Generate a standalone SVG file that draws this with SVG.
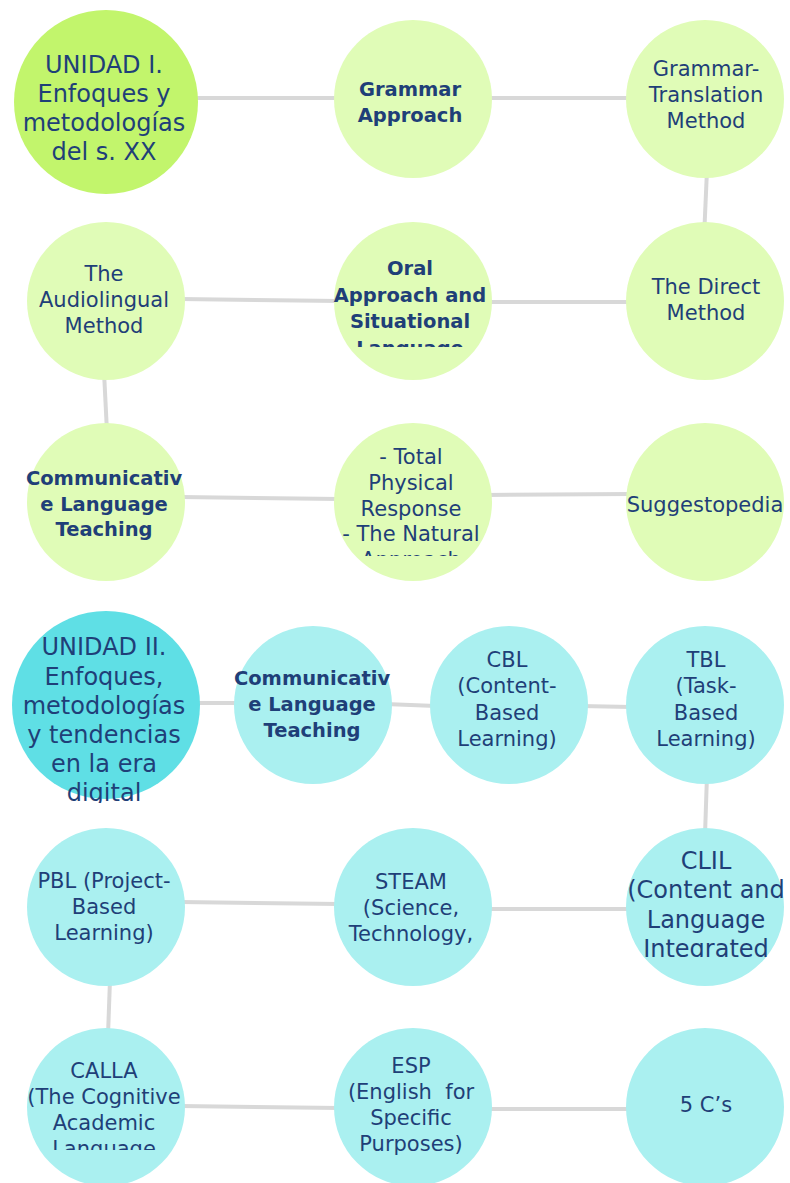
<svg xmlns="http://www.w3.org/2000/svg" width="790" height="1183" viewBox="0 0 790 1183">
<style>
.bg{fill:#ffffff}
.c{stroke:#d8d8d8;stroke-width:4;fill:none;stroke-linecap:butt}
.g1{fill:#c2f56c}
.g2{fill:#e0fcb7}
.b1{fill:#5fdfe5}
.b2{fill:#aaf0f0}
text{font-family:"DejaVu Sans","Verdana",sans-serif;fill:#1f3f78;text-anchor:middle}
.t{font-size:21px}
.tb{font-size:19.5px;font-weight:bold}
.tm{font-size:24px}
</style>
<defs>
<clipPath id="clipOral"><rect x="300" y="200" width="220" height="147"/></clipPath>
<clipPath id="clipTPR"><rect x="300" y="400" width="220" height="156"/></clipPath>
<clipPath id="clipU2"><rect x="0" y="600" width="220" height="203"/></clipPath>
<clipPath id="clipCLIL"><rect x="600" y="820" width="190" height="137"/></clipPath>
<clipPath id="clipCALLA"><rect x="0" y="1020" width="220" height="130"/></clipPath>
</defs>
<rect class="bg" x="0" y="0" width="790" height="1183"/>
<g id="connectors">
<line class="c" x1="190" y1="98" x2="340" y2="98"/>
<line class="c" x1="485" y1="98" x2="632" y2="98"/>
<line class="c" x1="707" y1="170" x2="704" y2="238"/>
<line class="c" x1="632" y1="302" x2="485" y2="302"/>
<line class="c" x1="340" y1="301" x2="180" y2="299"/>
<line class="c" x1="104" y1="372" x2="107" y2="432"/>
<line class="c" x1="180" y1="497" x2="340" y2="499"/>
<line class="c" x1="485" y1="495" x2="632" y2="494"/>
<line class="c" x1="195" y1="703" x2="240" y2="703"/>
<line class="c" x1="385" y1="704" x2="436" y2="706"/>
<line class="c" x1="580" y1="706" x2="632" y2="707"/>
<line class="c" x1="707" y1="775" x2="705" y2="835"/>
<line class="c" x1="632" y1="909" x2="485" y2="909"/>
<line class="c" x1="340" y1="904" x2="180" y2="902"/>
<line class="c" x1="110" y1="980" x2="108" y2="1035"/>
<line class="c" x1="180" y1="1106" x2="340" y2="1108"/>
<line class="c" x1="485" y1="1109" x2="632" y2="1109"/>
</g>
<g id="n-unidad1">
<circle class="g1" cx="106" cy="102" r="92"/>
<text class="tm"><tspan x="104" y="73">UNIDAD I.</tspan><tspan x="104" y="102">Enfoques y</tspan><tspan x="104" y="131">metodologías</tspan><tspan x="104" y="160">del s. XX</tspan></text>
</g>
<g id="n-grammar">
<circle class="g2" cx="413" cy="99" r="79"/>
<text class="tb"><tspan x="410" y="96">Grammar</tspan><tspan x="410" y="122">Approach</tspan></text>
</g>
<g id="n-gt">
<circle class="g2" cx="705" cy="99" r="79"/>
<text class="t"><tspan x="706" y="76">Grammar-</tspan><tspan x="706" y="102">Translation</tspan><tspan x="706" y="128">Method</tspan></text>
</g>
<g id="n-audio">
<circle class="g2" cx="106" cy="301" r="79"/>
<text class="t"><tspan x="104" y="281">The</tspan><tspan x="104" y="307">Audiolingual</tspan><tspan x="104" y="333">Method</tspan></text>
</g>
<g id="n-oral">
<circle class="g2" cx="413" cy="301" r="79"/>
<text class="tb" clip-path="url(#clipOral)"><tspan x="410" y="275">Oral</tspan><tspan x="410" y="301.5">Approach and</tspan><tspan x="410" y="328">Situational</tspan><tspan x="410" y="354.5">Language</tspan></text>
</g>
<g id="n-direct">
<circle class="g2" cx="705" cy="301" r="79"/>
<text class="t"><tspan x="706" y="294">The Direct</tspan><tspan x="706" y="320">Method</tspan></text>
</g>
<g id="n-clt1">
<circle class="g2" cx="106" cy="502" r="79"/>
<text class="tb"><tspan x="104" y="485">Communicativ</tspan><tspan x="104" y="510.5">e Language</tspan><tspan x="104" y="536">Teaching</tspan></text>
</g>
<g id="n-tpr">
<circle class="g2" cx="413" cy="502" r="79"/>
<text class="t" clip-path="url(#clipTPR)"><tspan x="411" y="464">- Total</tspan><tspan x="411" y="490">Physical</tspan><tspan x="411" y="515.5">Response</tspan><tspan x="411" y="541">- The Natural</tspan><tspan x="411" y="567">Approach</tspan></text>
</g>
<g id="n-sugg">
<circle class="g2" cx="705" cy="502" r="79"/>
<text class="t"><tspan x="705" y="512">Suggestopedia</tspan></text>
</g>
<g id="n-unidad2">
<circle class="b1" cx="106" cy="705" r="94"/>
<text class="tm" clip-path="url(#clipU2)"><tspan x="104" y="655">UNIDAD II.</tspan><tspan x="104" y="684.5">Enfoques,</tspan><tspan x="104" y="713.5">metodologías</tspan><tspan x="104" y="743">y tendencias</tspan><tspan x="104" y="772">en la era</tspan><tspan x="104" y="801">digital</tspan></text>
</g>
<g id="n-clt2">
<circle class="b2" cx="313" cy="705" r="79"/>
<text class="tb"><tspan x="312" y="685">Communicativ</tspan><tspan x="312" y="710.5">e Language</tspan><tspan x="312" y="736.5">Teaching</tspan></text>
</g>
<g id="n-cbl">
<circle class="b2" cx="509" cy="705" r="79"/>
<text class="t"><tspan x="507" y="667">CBL</tspan><tspan x="507" y="693">(Content-</tspan><tspan x="507" y="720">Based</tspan><tspan x="507" y="746">Learning)</tspan></text>
</g>
<g id="n-tbl">
<circle class="b2" cx="705" cy="705" r="79"/>
<text class="t"><tspan x="706" y="667">TBL</tspan><tspan x="706" y="693">(Task-</tspan><tspan x="706" y="720">Based</tspan><tspan x="706" y="746">Learning)</tspan></text>
</g>
<g id="n-pbl">
<circle class="b2" cx="106" cy="907" r="79"/>
<text class="t"><tspan x="104" y="888">PBL (Project-</tspan><tspan x="104" y="914">Based</tspan><tspan x="104" y="940">Learning)</tspan></text>
</g>
<g id="n-steam">
<circle class="b2" cx="413" cy="907" r="79"/>
<text class="t"><tspan x="411" y="889">STEAM</tspan><tspan x="411" y="915">(Science,</tspan><tspan x="411" y="940.5">Technology,</tspan></text>
</g>
<g id="n-clil">
<circle class="b2" cx="705" cy="907" r="79"/>
<text class="tm" clip-path="url(#clipCLIL)"><tspan x="706" y="868.5">CLIL</tspan><tspan x="706" y="898">(Content and</tspan><tspan x="706" y="927.5">Language</tspan><tspan x="706" y="957">Integrated</tspan></text>
</g>
<g id="n-calla">
<circle class="b2" cx="106" cy="1107" r="79"/>
<text class="t" clip-path="url(#clipCALLA)"><tspan x="104" y="1078">CALLA</tspan><tspan x="104" y="1104">(The Cognitive</tspan><tspan x="104" y="1130">Academic</tspan><tspan x="104" y="1156">Language</tspan></text>
</g>
<g id="n-esp">
<circle class="b2" cx="413" cy="1107" r="79"/>
<text class="t"><tspan x="411" y="1073">ESP</tspan><tspan x="411" y="1099" xml:space="preserve">(English  for</tspan><tspan x="411" y="1125">Specific</tspan><tspan x="411" y="1151">Purposes)</tspan></text>
</g>
<g id="n-5cs">
<circle class="b2" cx="705" cy="1107" r="79"/>
<text class="t"><tspan x="706" y="1112">5 C’s</tspan></text>
</g>
</svg>
